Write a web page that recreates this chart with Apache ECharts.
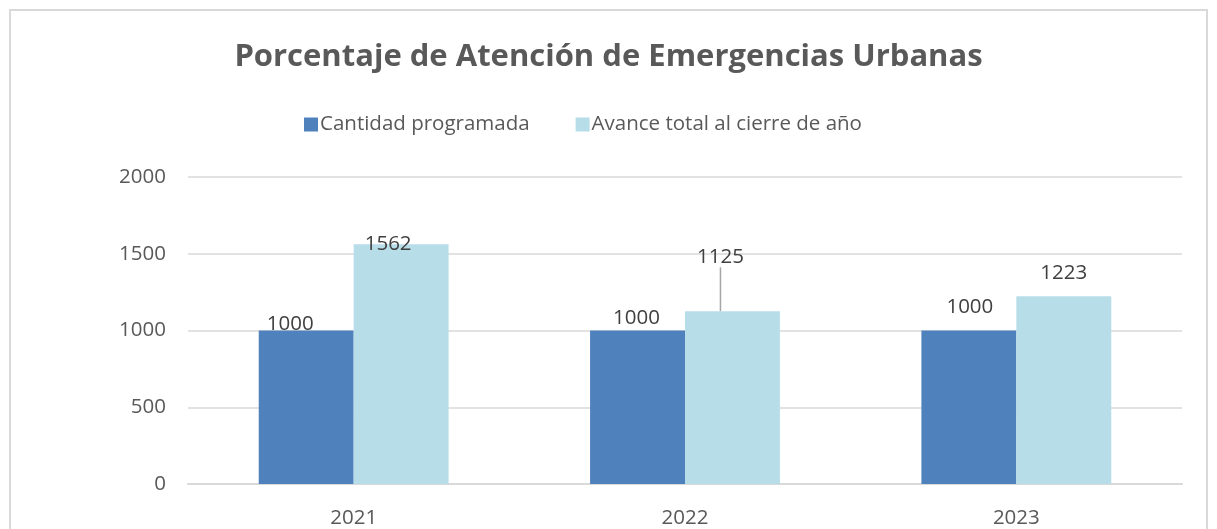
<!DOCTYPE html>
<html>
<head>
<meta charset="utf-8">
<script src="https://cdn.jsdelivr.net/npm/echarts@6/dist/echarts.min.js"></script>
<style>
  html, body { margin: 0; padding: 0; background: #fff; }
  #chart { width: 1217px; height: 529px; }
</style>
</head>
<body>
<div id="chart"></div>
<script>
var years = ['2021', '2022', '2023'];
var programada = [1000, 1000, 1000];
var avance = [1562, 1125, 1223];

// label nudges, [dx, dy] from the default 'top' spot
var shiftProgramada = [[-16, 9], [-1, 3], [1, -8]];
var shiftAvance = [[-13, 15], [-12, -39], [0, -8]];

var font = '"Open Sans", "Liberation Sans", sans-serif';
var chart = echarts.init(document.getElementById('chart'));

chart.setOption({
  animation: false,
  title: {
    text: 'Porcentaje de Atención de Emergencias Urbanas',
    left: 'center',
    top: 37,
    textStyle: { fontFamily: font, fontSize: 31, fontWeight: 'bold', color: '#595959' }
  },
  legend: {
    left: 299,
    top: 109,
    itemWidth: 14,
    itemHeight: 14,
    itemGap: 46,
    icon: 'rect',
    textStyle: { fontFamily: font, fontSize: 20.5, color: '#595959', padding: [0, 0, 0, -3] },
    data: ['Cantidad programada', 'Avance total al cierre de año']
  },
  graphic: [{
    type: 'rect',
    shape: { x: 10, y: 10, width: 1197, height: 600 },
    style: { fill: 'none', stroke: '#d9d9d9', lineWidth: 2 },
    silent: true
  }],
  grid: { left: 188, right: 35, top: 177, bottom: 45 },
  xAxis: {
    type: 'category',
    data: years,
    axisLine: { lineStyle: { color: '#d9d9d9', width: 2 } },
    axisTick: { show: false },
    axisLabel: { fontFamily: font, fontSize: 20.5, color: '#595959', margin: 24 }
  },
  yAxis: {
    type: 'value',
    min: 0,
    max: 2000,
    interval: 500,
    axisLine: { show: false },
    axisTick: { show: false },
    splitLine: { lineStyle: { color: '#d9d9d9', width: 1.5 } },
    axisLabel: {
      fontFamily: font, fontSize: 20.5, color: '#595959', margin: 22,
      formatter: function (v) { return String(v); }
    }
  },
  series: [
    {
      name: 'Cantidad programada',
      type: 'bar',
      data: programada,
      barGap: '0%',
      barCategoryGap: '42.7%',
      itemStyle: { color: '#4f81bd' },
      label: { show: true, position: 'top', distance: 5, fontFamily: font, fontSize: 20.5, color: '#404040' },
      labelLayout: function (p) {
        return { dx: shiftProgramada[p.dataIndex][0], dy: shiftProgramada[p.dataIndex][1] };
      }
    },
    {
      name: 'Avance total al cierre de año',
      type: 'bar',
      data: avance.map(function (v, i) {
        return i === 1 ? { value: v, labelLine: { show: true } } : v;
      }),
      itemStyle: { color: '#b7dde8' },
      label: { show: true, position: 'top', distance: 5, fontFamily: font, fontSize: 20.5, color: '#404040' },
      labelLine: { show: false, lineStyle: { color: '#a6a6a6', width: 1.5 } },
      labelLayout: function (p) {
        return { dx: shiftAvance[p.dataIndex][0], dy: shiftAvance[p.dataIndex][1] };
      }
    }
  ]
});
</script>
</body>
</html>
